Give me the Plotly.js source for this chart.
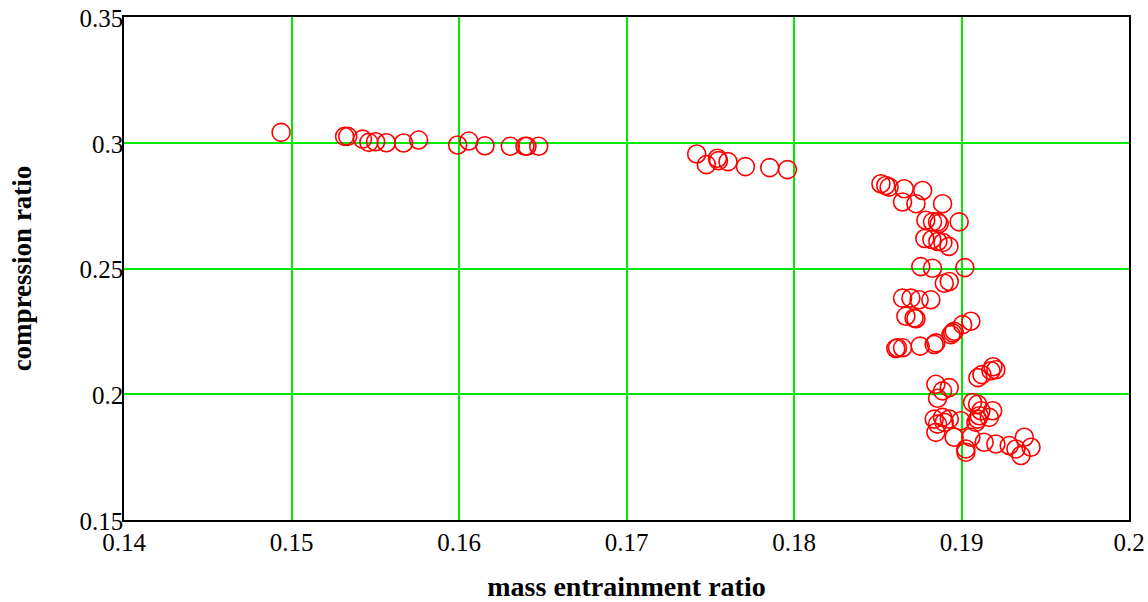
<!DOCTYPE html>
<html>
<head>
<meta charset="utf-8">
<script src="https://cdn.plot.ly/plotly-3.0.1.min.js"></script>
<style>html,body{margin:0;padding:0;background:#fff;}#chart{width:1148px;height:602px;}</style>
</head>
<body>
<div id="chart"></div>
<script>
// mass entrainment ratio (x) and compression ratio (y)
const massEntrainment = [
  0.14938, 0.15317, 0.15336, 0.15424, 0.15462, 0.15502, 0.15566, 0.15669, 0.15759,
  0.15992, 0.16059, 0.16155, 0.16306, 0.16394, 0.16406, 0.16476,
  0.17419, 0.17477, 0.17543, 0.17549, 0.17606, 0.17710, 0.17855, 0.17961,
  0.18519, 0.18548, 0.18568, 0.18658, 0.18768, 0.18648, 0.18728, 0.18887,
  0.18787, 0.18827, 0.18857, 0.18867, 0.18986, 0.18781, 0.18823, 0.18859, 0.18889, 0.18925,
  0.18757, 0.18827, 0.19020, 0.18897, 0.18927, 0.18648, 0.18698, 0.18747, 0.18817,
  0.18668, 0.18717, 0.18728, 0.19056, 0.19007, 0.18956, 0.18947, 0.18937,
  0.18847, 0.18837, 0.18753, 0.18648, 0.18618, 0.18608,
  0.19098, 0.19122, 0.19176, 0.19205, 0.19188,
  0.18847, 0.18927, 0.18887, 0.18857, 0.19066, 0.19096, 0.19186, 0.19116, 0.19106,
  0.19096, 0.19166, 0.19086, 0.18837, 0.18887, 0.18927, 0.18857, 0.18897, 0.18847,
  0.18956, 0.19056, 0.18996, 0.19135, 0.19205, 0.19285, 0.19325, 0.19375, 0.19415,
  0.19355, 0.19026, 0.19026
];
const compressionRatio = [
  0.30411, 0.30253, 0.30253, 0.30146, 0.30016, 0.30040, 0.30000, 0.29988, 0.30107,
  0.29909, 0.30067, 0.29881, 0.29858, 0.29858, 0.29858, 0.29858,
  0.29553, 0.29130, 0.29383, 0.29289, 0.29249, 0.29051, 0.29012, 0.28933,
  0.28368, 0.28300, 0.28237, 0.28170, 0.28103, 0.27644, 0.27577, 0.27577,
  0.26917, 0.26854, 0.26854, 0.26787, 0.26854, 0.26194, 0.26154, 0.26075, 0.26036, 0.25878,
  0.25075, 0.25008, 0.25036, 0.24415, 0.24482, 0.23822, 0.23822, 0.23755, 0.23755,
  0.23099, 0.23032, 0.23004, 0.22901, 0.22767, 0.22506, 0.22439, 0.22372,
  0.22043, 0.21976, 0.21913, 0.21846, 0.21846, 0.21818,
  0.20660, 0.20779, 0.20937, 0.20976, 0.21095,
  0.20395, 0.20265, 0.20134, 0.19842, 0.19672, 0.19605, 0.19344, 0.19344, 0.19146,
  0.19012, 0.19079, 0.18881, 0.19012, 0.19079, 0.19012, 0.18814, 0.18881, 0.18486,
  0.18289, 0.18289, 0.18949, 0.18091, 0.18024, 0.17960, 0.17826, 0.18289, 0.17893,
  0.17565, 0.17826, 0.17696
];
const xTickVals = [0.14, 0.15, 0.16, 0.17, 0.18, 0.19, 0.2];
const xTickText = ["0.14", "0.15", "0.16", "0.17", "0.18", "0.19", "0.2"];
const yTickVals = [0.15, 0.2, 0.25, 0.3, 0.35];
const yTickText = ["0.15", "0.2", "0.25", "0.3", "0.35"];

const trace = {
  x: massEntrainment,
  y: compressionRatio,
  type: 'scatter',
  mode: 'markers',
  marker: {symbol: 'circle-open', size: 18, color: 'rgb(255,0,0)', line: {width: 1.6, color: 'rgb(255,0,0)'}},
  hoverinfo: 'x+y'
};

const fontFam = 'Liberation Serif, serif';
const layout = {
  width: 1148, height: 602,
  margin: {l: 124, r: 19, t: 17, b: 82},
  paper_bgcolor: '#ffffff', plot_bgcolor: '#ffffff',
  showlegend: false,
  font: {family: fontFam, size: 25, color: '#000'},
  xaxis: {
    range: [0.14, 0.2], tickvals: xTickVals, ticktext: xTickText,
    showgrid: true, gridcolor: 'rgb(0,235,0)', gridwidth: 2,
    showline: true, linecolor: '#000', linewidth: 1.5, mirror: true,
    zeroline: false, ticks: '', ticklabelstandoff: -1,
    tickfont: {family: fontFam, size: 25, color: '#000'},
    title: {text: '<b>mass entrainment ratio</b>', font: {family: fontFam, size: 28, color: '#000'}, standoff: 31}
  },
  yaxis: {
    range: [0.15, 0.35], tickvals: yTickVals, ticktext: yTickText,
    showgrid: true, gridcolor: 'rgb(0,235,0)', gridwidth: 2,
    showline: true, linecolor: '#000', linewidth: 1.5, mirror: true,
    zeroline: false, ticks: '', ticklabelstandoff: -6, ticklabelshift: 1,
    tickfont: {family: fontFam, size: 25, color: '#000'},
    title: {text: '<b>compression ratio</b>', font: {family: fontFam, size: 27, color: '#000'}, standoff: 40}
  }
};

Plotly.newPlot('chart', [trace], layout, {displayModeBar: false});
</script>
</body>
</html>
